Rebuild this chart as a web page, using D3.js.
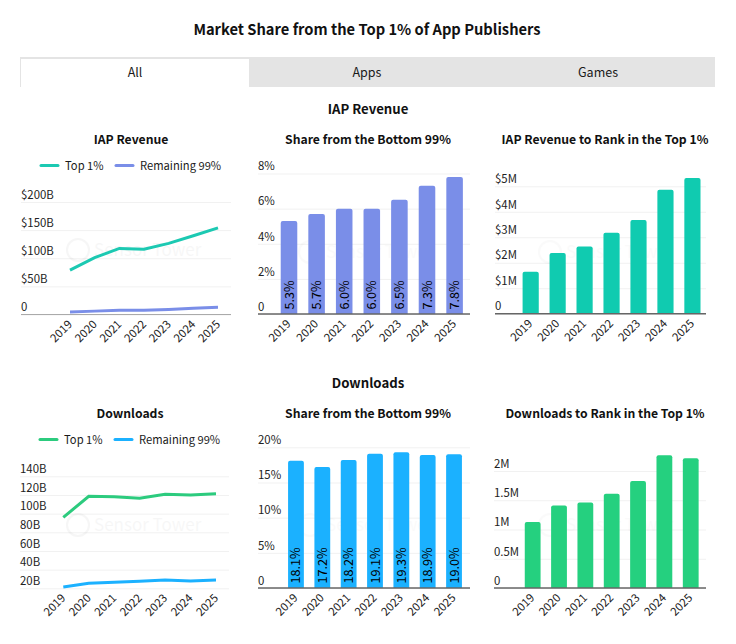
<!DOCTYPE html>
<html>
<head>
<meta charset="utf-8">
<script src="https://d3js.org/d3.v7.min.js"></script>
<style>
  body { margin: 0; background: #fff; }
  svg { display: block; }
  text { font-family: "Noto Sans CJK SC", "Noto Sans", sans-serif; fill: #1a1a1a; }
  .title { font-weight: 700; text-anchor: middle; fill: #111; }
  .tick line { stroke: #f1f1f1; }
  .axis-y text, .axis-x text { font-size: 11.4px; fill: #222; }
</style>
</head>
<body>
<script>
// values
var years = ["2019", "2020", "2021", "2022", "2023", "2024", "2025"];
var tabs = ["All", "Apps", "Games"];

var iapTop = [79, 101, 117.5, 116, 126.5, 140, 154];
var iapRest = [4.5, 6, 7.5, 7.5, 9, 11, 13];
var iapShare = [5.3, 5.7, 6.0, 6.0, 6.5, 7.3, 7.8];
var iapRank = [1.65, 2.38, 2.64, 3.18, 3.68, 4.86, 5.33];

var dlTop = [96, 118.6, 118, 116.4, 120.7, 120, 121.4];
var dlRest = [21.4, 25.4, 26.4, 27.5, 29, 27.9, 29];
var dlShare = [18.1, 17.2, 18.2, 19.1, 19.3, 18.9, 19.0];
var dlRank = [1.13, 1.41, 1.46, 1.61, 1.83, 2.27, 2.22];

var iapTicks = [0, 50, 100, 150, 200];
var iapShareTicks = [0, 2, 4, 6, 8];
var iapRankTicks = [0, 1, 2, 3, 4, 5];
var dlTicks = [20, 40, 60, 80, 100, 120, 140];
var dlShareTicks = [0, 5, 10, 15, 20];
var dlRankTicks = [0, 0.5, 1, 1.5, 2];

var teal = "#10cbb0", periwinkle = "#7a8ee8", green = "#25d07f", sky = "#1bb1ff";

var svg = d3.select("body").append("svg").attr("width", 736).attr("height", 644);

svg.append("text").attr("class", "title").attr("x", 367).attr("y", 35)
  .style("font-size", "14.7px").text("Market Share from the Top 1% of App Publishers");

// tab strip
svg.append("rect").attr("x", 20).attr("y", 57).attr("width", 695).attr("height", 30).attr("fill", "#e4e4e4");
svg.append("rect").attr("x", 21).attr("y", 59).attr("width", 228).attr("height", 28).attr("fill", "#fff");
svg.selectAll(".tab").data(tabs).enter().append("text")
  .attr("class", "tab")
  .attr("x", function(d, i) { return [135, 367, 598][i]; })
  .attr("y", 77)
  .attr("text-anchor", "middle")
  .style("font-size", "12.5px")
  .text(function(d) { return d; });

svg.append("text").attr("class", "title").attr("x", 368).attr("y", 114).style("font-size", "13.2px").text("IAP Revenue");
svg.append("text").attr("class", "title").attr("x", 368).attr("y", 388).style("font-size", "13.2px").text("Downloads");

function yAxis(y, ticks, fmt, left, right) {
  var axis = svg.append("g").attr("class", "axis-y").attr("transform", "translate(" + left + ",0)")
    .call(d3.axisLeft(y).tickValues(ticks).tickFormat(fmt).tickSize(-(right - left)));
  axis.select(".domain").remove();
  axis.selectAll("text").attr("x", 0).attr("dy", "-0.33em").attr("text-anchor", "start");
}

function xAxis(x, base) {
  var axis = svg.append("g").attr("class", "axis-x").attr("transform", "translate(0," + base + ")")
    .call(d3.axisBottom(x).tickSize(0));
  axis.select(".domain").remove();
  axis.selectAll("text")
    .attr("text-anchor", "end")
    .attr("dy", 0).attr("y", 0)
    .attr("transform", "translate(2.5,10.5) rotate(-45)");
}

function watermark(cx, cy, op) {
  var g = svg.append("g").attr("opacity", op);
  g.append("circle").attr("cx", cx - 52).attr("cy", cy).attr("r", 11).attr("fill", "none").attr("stroke", "#000").attr("stroke-width", 2);
  g.append("text").attr("x", cx - 36).attr("y", cy + 6).style("font-size", "17px").text("Sensor Tower");
}

function linePanel(o) {
  svg.append("text").attr("class", "title").attr("x", o.titleX).attr("y", o.titleY).style("font-size", "12.2px").text(o.title);
  var y = d3.scaleLinear().domain(o.domain).range(o.yRange);
  var x = d3.scalePoint().domain(years).range(o.xRange);
  yAxis(y, o.ticks, o.fmt, o.left, o.right);
  if (o.baseline) {
    svg.append("line").attr("x1", o.left).attr("x2", o.right).attr("y1", o.yRange[0]).attr("y2", o.yRange[0]).attr("stroke", "#aaa");
  }
  watermark(o.wmX, o.wmY, 0.03);
  xAxis(x, o.yRange[0]);
  var line = d3.line().x(function(d, i) { return x(years[i]); }).y(function(d) { return y(d); });
  [[o.top, o.topColor], [o.rest, o.restColor]].forEach(function(s) {
    svg.append("path").datum(s[0]).attr("d", line).attr("fill", "none")
      .attr("stroke", s[1]).attr("stroke-width", 3);
  });
  // legend
  var lx = o.legendX, ly = o.titleY + 21.5;
  [["Top 1%", o.topColor, 0], ["Remaining 99%", o.restColor, 75]].forEach(function(s) {
    svg.append("line").attr("x1", lx + s[2]).attr("x2", lx + s[2] + 17).attr("y1", ly).attr("y2", ly)
      .attr("stroke", s[1]).attr("stroke-width", 3).attr("stroke-linecap", "round");
    svg.append("text").attr("x", lx + s[2] + 24).attr("y", ly + 4).style("font-size", "11.2px").text(s[0]);
  });
}

function barPanel(o) {
  svg.append("text").attr("class", "title").attr("x", o.titleX).attr("y", o.titleY).style("font-size", "12.2px").text(o.title);
  var y = d3.scaleLinear().domain(o.domain).range(o.yRange);
  var x = d3.scaleBand().domain(years).range(o.xRange).paddingInner(0.4).paddingOuter(0.2);
  yAxis(y, o.ticks, o.fmt, o.left, o.right);
  watermark(o.wmX, o.wmY, 0.015);
  svg.selectAll(null).data(o.values).enter().append("path")
    .attr("fill", o.color)
    .attr("d", function(d, i) {
      var x0 = x(years[i]), w = x.bandwidth(), t = y(d), b = o.yRange[0], r = 2;
      return "M" + x0 + "," + b + "V" + (t + r) + "Q" + x0 + "," + t + " " + (x0 + r) + "," + t +
        "H" + (x0 + w - r) + "Q" + (x0 + w) + "," + t + " " + (x0 + w) + "," + (t + r) + "V" + b + "Z";
    });
  svg.append("line").attr("x1", o.left).attr("x2", o.right).attr("y1", o.yRange[0]).attr("y2", o.yRange[0])
    .attr("stroke", "#666").attr("stroke-width", 1.5);
  if (o.labels) {
    svg.selectAll(null).data(o.values).enter().append("text")
      .attr("transform", function(d, i) {
        return "translate(" + (x(years[i]) + x.bandwidth() / 2 + 4.5) + "," + (o.yRange[0] - 4.5) + ") rotate(-90)";
      })
      .style("font-size", "12.6px")
      .style("fill", "#000")
      .text(function(d) { return d.toFixed(1) + "%"; });
  }
  xAxis(x, o.yRange[0]);
}

linePanel({
  title: "IAP Revenue", titleX: 131, titleY: 144,
  top: iapTop, rest: iapRest, topColor: "#1cc9b2", restColor: periwinkle,
  domain: [0, 200], yRange: [314.5, 202], xRange: [70, 218],
  ticks: iapTicks, left: 21, right: 231, baseline: true,
  fmt: function(d) { return d ? "$" + d + "B" : "0"; },
  legendX: 41, wmX: 130, wmY: 250
});
barPanel({
  title: "Share from the Bottom 99%", titleX: 368, titleY: 144,
  values: iapShare, color: periwinkle, labels: true,
  domain: [0, 8], yRange: [314, 173.5], xRange: [275.2, 468.4],
  ticks: iapShareTicks, left: 258, right: 470,
  fmt: function(d) { return d ? d + "%" : "0"; },
  wmX: 362, wmY: 252
});
barPanel({
  title: "IAP Revenue to Rank in the Top 1%", titleX: 605, titleY: 144,
  values: iapRank, color: teal,
  domain: [0, 5], yRange: [313.7, 186.3], xRange: [517.2, 705.9],
  ticks: iapRankTicks, left: 495, right: 706,
  fmt: function(d) { return d ? "$" + d + "M" : "0"; },
  wmX: 602, wmY: 252
});
linePanel({
  title: "Downloads", titleX: 130, titleY: 418,
  top: dlTop, rest: dlRest, topColor: "#2ccb7e", restColor: sky,
  domain: [20, 140], yRange: [588.3, 476.3], xRange: [63.3, 216],
  ticks: dlTicks, left: 20, right: 229,
  fmt: function(d) { return d + "B"; },
  legendX: 40, wmX: 130, wmY: 525
});
barPanel({
  title: "Share from the Bottom 99%", titleX: 368, titleY: 418,
  values: dlShare, color: sky, labels: true,
  domain: [0, 20], yRange: [588, 447.3], xRange: [282.8, 467.2],
  ticks: dlShareTicks, left: 258, right: 470,
  fmt: function(d) { return d ? d + "%" : "0"; },
  wmX: 362, wmY: 525
});
barPanel({
  title: "Downloads to Rank in the Top 1%", titleX: 605, titleY: 418,
  values: dlRank, color: green,
  domain: [0, 2], yRange: [588, 471], xRange: [519.5, 703.9],
  ticks: dlRankTicks, left: 494, right: 706,
  fmt: function(d) { return d ? d + "M" : "0"; },
  wmX: 602, wmY: 525
});
</script>
</body>
</html>
